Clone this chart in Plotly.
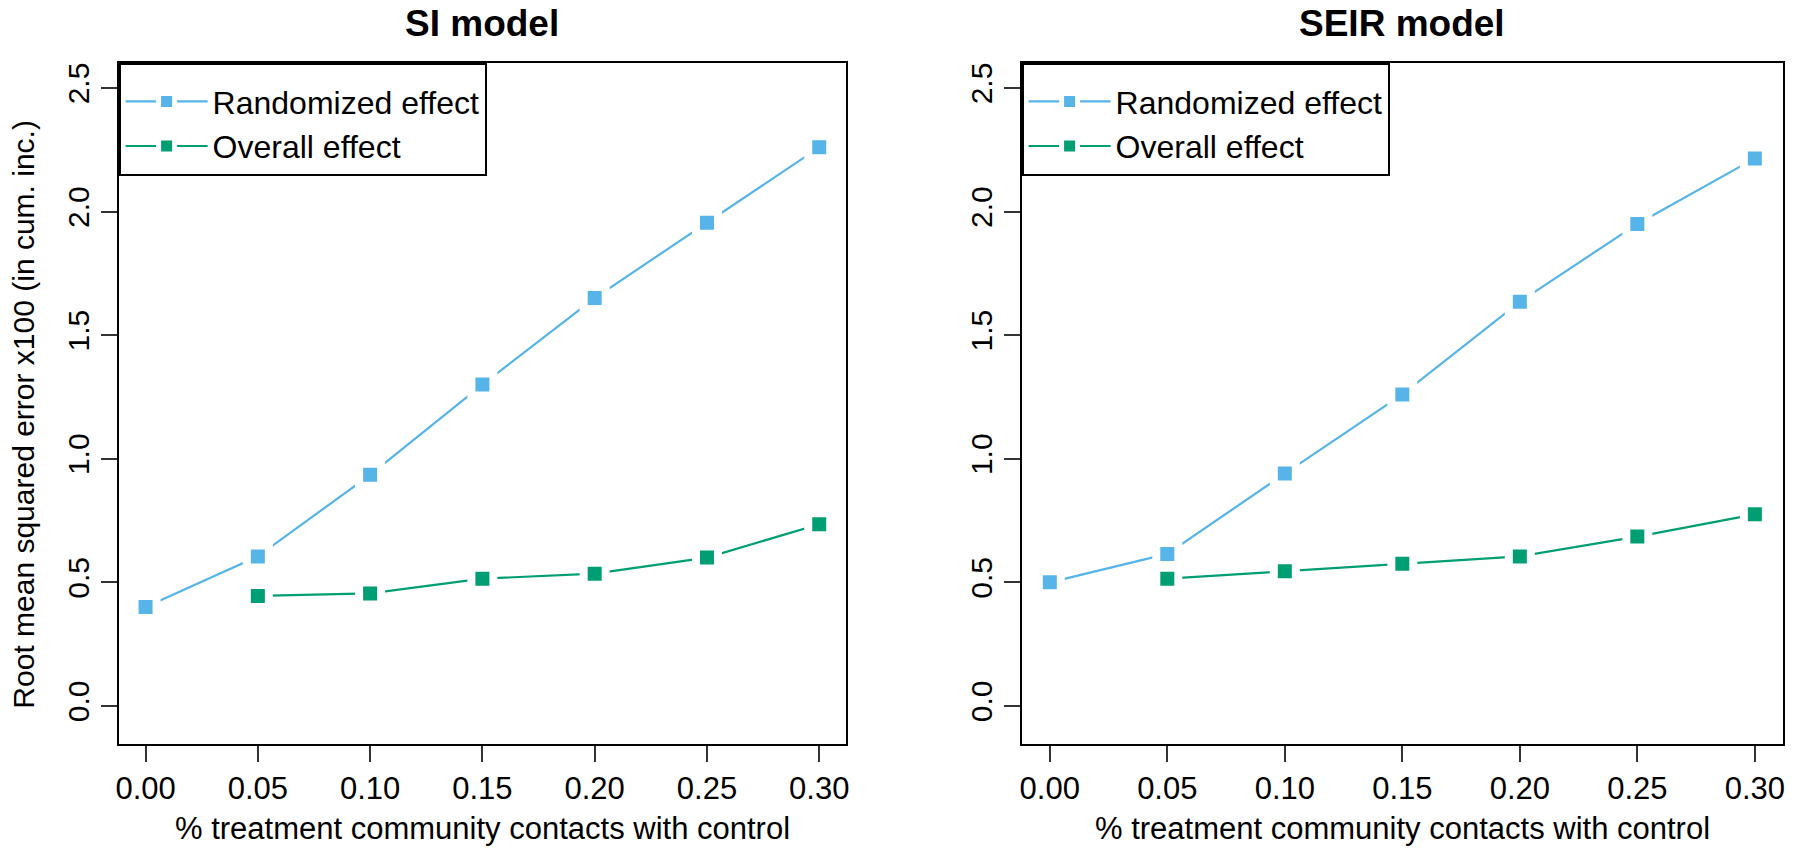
import plotly.graph_objects as go

# x: % treatment community contacts with control
x_vals = [0.00, 0.05, 0.10, 0.15, 0.20, 0.25, 0.30]
x_overall = [0.05, 0.10, 0.15, 0.20, 0.25, 0.30]

# RMSE x100 (in cum. inc.)
si_randomized = [0.40, 0.605, 0.935, 1.30, 1.65, 1.955, 2.26]
si_overall = [0.445, 0.455, 0.515, 0.535, 0.60, 0.735]
seir_randomized = [0.50, 0.615, 0.94, 1.26, 1.635, 1.95, 2.215]
seir_overall = [0.515, 0.545, 0.575, 0.605, 0.685, 0.775]

panel_titles = ["SI model", "SEIR model"]
series_names = ["Randomized effect", "Overall effect"]
x_tick_vals = [0.00, 0.05, 0.10, 0.15, 0.20, 0.25, 0.30]
y_tick_vals = [0.0, 0.5, 1.0, 1.5, 2.0, 2.5]

BLUE = "#56B4E9"
GREEN = "#009E73"
SANS = "Liberation Sans, Arial, Helvetica, sans-serif"

W, H = 1800, 852


def px_x(s):
    return s / W


def px_y(s):
    return 1 - s / H


dom_left = [px_x(116), px_x(846)]
dom_right = [px_x(1022), px_x(1786)]
dom_y = [px_y(744), px_y(63)]

fig = go.Figure()

panels = [
    ("x", "y", "legend", si_randomized, si_overall),
    ("x2", "y2", "legend2", seir_randomized, seir_overall),
]
for xa, ya, lg, rnd, ovr in panels:
    for name, xs, ys, col in [(series_names[0], x_vals, rnd, BLUE),
                              (series_names[1], x_overall, ovr, GREEN)]:
        fig.add_trace(go.Scatter(
            x=xs, y=ys, name=name, mode="lines+markers",
            xaxis=xa, yaxis=ya, legend=lg,
            line=dict(color=col, width=2.2),
            marker=dict(symbol="square", size=22, color=col,
                        line=dict(color="white", width=8)),
        ))

axis_common = dict(showline=True, mirror=True, linecolor="black", linewidth=2,
                   showgrid=False, zeroline=False, ticks="outside",
                   ticklen=16, tickwidth=1.5, tickcolor="#333")

xaxis_cfg = dict(axis_common, range=[-0.012, 0.312], tickvals=x_tick_vals,
                 tickformat=".2f", tickfont=dict(family=SANS, size=31, color="black"),
                 ticklabelstandoff=0)
yaxis_cfg = dict(axis_common, range=[-0.154, 2.601], tickvals=y_tick_vals,
                 tickformat=".1f", tickangle=-90,
                 tickfont=dict(family=SANS, size=30, color="black"),
                 ticklabelstandoff=0)

legend_cfg = dict(bgcolor="white", bordercolor="black", borderwidth=2,
                  font=dict(family=SANS, size=32, color="black"),
                  title=dict(text=" ", font=dict(size=7)),
                  xanchor="left", yanchor="top", itemwidth=82,
                  entrywidth=300, tracegroupgap=0)

fig.update_layout(
    width=W, height=H,
    margin=dict(l=0, r=0, t=0, b=0),
    paper_bgcolor="white", plot_bgcolor="white",
    showlegend=True,
    xaxis=dict(xaxis_cfg, domain=dom_left, anchor="y"),
    yaxis=dict(yaxis_cfg, domain=dom_y, anchor="x"),
    xaxis2=dict(xaxis_cfg, domain=dom_right, anchor="y2"),
    yaxis2=dict(yaxis_cfg, domain=dom_y, anchor="x2"),
    legend=dict(legend_cfg, x=dom_left[0], y=dom_y[1]),
    legend2=dict(legend_cfg, x=dom_right[0], y=dom_y[1]),
)

for dom, title in zip([dom_left, dom_right], panel_titles):
    cx = (dom[0] + dom[1]) / 2
    fig.add_annotation(text=f"<b>{title}</b>", x=cx, y=px_y(23), xref="paper", yref="paper",
                       showarrow=False, xanchor="center", yanchor="middle",
                       font=dict(family=SANS, size=37, color="black"))
    fig.add_annotation(text="% treatment community contacts with control", x=cx, y=px_y(828),
                       xref="paper", yref="paper", showarrow=False,
                       xanchor="center", yanchor="middle",
                       font=dict(family=SANS, size=31, color="black"))

fig.add_annotation(text="Root mean squared error x100 (in cum. inc.)", x=px_x(21),
                   y=(dom_y[0] + dom_y[1]) / 2 - 0.012, xref="paper", yref="paper",
                   showarrow=False, textangle=-90, xanchor="center", yanchor="middle",
                   font=dict(family=SANS, size=30, color="black"))

# drop the default 8px page margin so the figure sits at the window corner
fig.write_html("out.html", config={"displayModeBar": False},
               post_script="document.body.style.margin='0';")
